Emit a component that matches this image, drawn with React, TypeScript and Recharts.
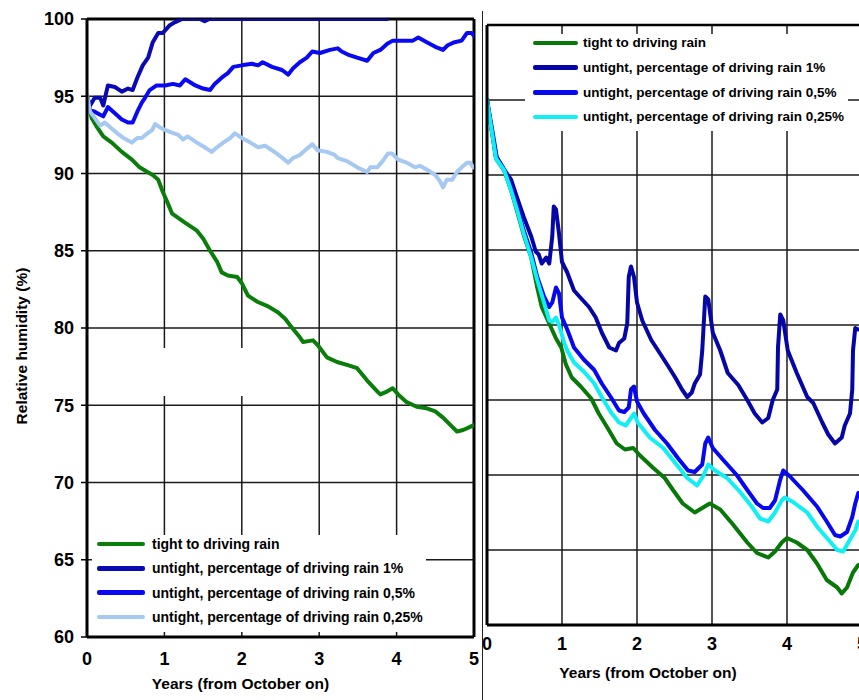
import React from 'react';
import { LineChart, Line, XAxis, YAxis, CartesianGrid, ReferenceLine, ReferenceArea, Legend } from 'recharts';

type Pt = [number, number];

const FONT = '"Liberation Sans", Arial, Helvetica, sans-serif';

const yearTicks = [0, 1, 2, 3, 4, 5];
const rhTicks = [60, 65, 70, 75, 80, 85, 90, 95, 100];
const gridRh = [65, 70, 75, 80, 85, 90, 95];
const gridYears = [1, 2, 3, 4];

const nameTight = 'tight to driving rain';
const nameRain1 = 'untight, percentage of driving rain 1%';
const nameRain05 = 'untight, percentage of driving rain 0,5%';
const nameRain025 = 'untight, percentage of driving rain 0,25%';
const legendOrder = [nameTight, nameRain1, nameRain05, nameRain025];

// ---- Left panel ----
const leftTight: Pt[] = [[0,94.8],[0.06,93.6],[0.13,93.0],[0.21,92.4],[0.32,92.0],[0.45,91.4],[0.58,90.9],[0.68,90.4],[0.78,90.1],[0.85,89.9],[0.92,89.6],[0.98,88.8],[1.05,88.0],[1.10,87.4],[1.27,86.8],[1.42,86.3],[1.50,85.8],[1.59,85.0],[1.68,84.3],[1.74,83.6],[1.82,83.4],[1.94,83.3],[2.00,82.9],[2.08,82.1],[2.20,81.7],[2.34,81.4],[2.47,81.0],[2.56,80.6],[2.62,80.2],[2.75,79.4],[2.79,79.1],[2.92,79.2],[2.98,78.9],[3.10,78.1],[3.23,77.8],[3.37,77.6],[3.49,77.4],[3.62,76.6],[3.75,75.9],[3.79,75.7],[3.88,75.9],[3.95,76.1],[4.02,75.7],[4.13,75.2],[4.26,74.9],[4.39,74.8],[4.50,74.6],[4.60,74.2],[4.72,73.6],[4.78,73.3],[4.86,73.4],[4.95,73.6],[4.99,73.7]];

const leftRain1: Pt[] = [[0,95],[0.04,94.4],[0.10,94.9],[0.17,94.9],[0.21,94.4],[0.27,95.7],[0.36,95.6],[0.45,95.3],[0.53,95.5],[0.59,95.4],[0.65,96.2],[0.72,97.0],[0.79,97.5],[0.85,98.5],[0.92,99.1],[0.98,99.1],[1.07,99.6],[1.14,99.8],[1.23,100],[1.46,100],[1.52,99.85],[1.58,100],[3.88,100]];

const leftRain05: Pt[] = [[0,95],[0.04,94.1],[0.10,94.0],[0.17,93.8],[0.21,93.7],[0.27,94.3],[0.36,93.9],[0.45,93.5],[0.53,93.3],[0.59,93.3],[0.65,94.0],[0.71,94.6],[0.75,94.9],[0.81,95.4],[0.90,95.7],[1.01,95.7],[1.11,95.8],[1.20,95.7],[1.27,96.1],[1.40,95.7],[1.50,95.5],[1.59,95.4],[1.65,95.8],[1.74,96.2],[1.82,96.5],[1.89,96.9],[2.00,97.0],[2.13,97.1],[2.21,97.0],[2.27,97.2],[2.39,96.9],[2.52,96.7],[2.60,96.4],[2.66,96.8],[2.75,97.2],[2.84,97.5],[2.91,97.9],[3.01,97.8],[3.14,98.0],[3.24,98.1],[3.29,97.9],[3.37,97.7],[3.49,97.5],[3.62,97.3],[3.70,97.8],[3.79,98.0],[3.88,98.4],[3.95,98.6],[4.08,98.6],[4.21,98.6],[4.28,98.8],[4.39,98.5],[4.50,98.2],[4.60,98.0],[4.66,98.3],[4.75,98.5],[4.84,98.6],[4.91,99.1],[4.97,99.1],[5.0,98.9]];

const leftRain025: Pt[] = [[0,95.1],[0.04,94.0],[0.10,93.6],[0.17,93.1],[0.23,93.3],[0.30,93.0],[0.39,92.6],[0.47,92.3],[0.58,92.0],[0.65,92.3],[0.71,92.3],[0.78,92.6],[0.84,92.8],[0.88,93.2],[0.97,92.9],[1.07,92.7],[1.18,92.5],[1.24,92.2],[1.30,92.4],[1.42,92.0],[1.52,91.7],[1.61,91.4],[1.68,91.7],[1.76,92.0],[1.85,92.3],[1.91,92.6],[2.00,92.3],[2.11,92.0],[2.21,91.7],[2.30,91.8],[2.36,91.6],[2.45,91.3],[2.60,90.7],[2.66,91.0],[2.75,91.2],[2.84,91.6],[2.91,91.9],[2.98,91.5],[3.10,91.4],[3.20,91.2],[3.24,91.0],[3.36,90.8],[3.49,90.4],[3.62,90.1],[3.66,90.4],[3.75,90.4],[3.82,90.8],[3.89,91.3],[3.94,91.3],[4.02,90.9],[4.13,90.7],[4.24,90.4],[4.30,90.5],[4.41,90.2],[4.50,89.9],[4.56,89.5],[4.60,89.1],[4.65,89.6],[4.72,89.6],[4.78,90.1],[4.84,90.4],[4.91,90.7],[4.95,90.7],[4.99,90.4]];

// ---- Right panel ----
const rightTight: Pt[] = [[0,95],[0.12,91.1],[0.23,90.3],[0.32,89.0],[0.40,87.6],[0.49,86.0],[0.59,84.5],[0.67,82.5],[0.73,81.2],[0.83,80.1],[0.92,79.1],[0.99,78.5],[1.05,77.4],[1.13,76.5],[1.25,75.9],[1.39,75.1],[1.49,74.1],[1.60,73.2],[1.73,72.1],[1.84,71.7],[1.95,71.8],[2.04,71.3],[2.21,70.5],[2.37,69.8],[2.48,69.0],[2.61,68.1],[2.77,67.5],[2.87,67.8],[2.97,68.1],[3.11,67.7],[3.28,66.7],[3.47,65.5],[3.60,64.8],[3.75,64.5],[3.84,64.9],[3.93,65.5],[4.00,65.8],[4.13,65.5],[4.27,65.0],[4.40,64.1],[4.53,63.0],[4.67,62.5],[4.73,62.1],[4.80,62.5],[4.88,63.5],[4.95,64.0]];

const rightRain1: Pt[] = [[0,95],[0.07,93.0],[0.13,91.2],[0.25,90.2],[0.32,89.7],[0.40,88.5],[0.49,87.2],[0.59,85.9],[0.65,84.9],[0.69,84.7],[0.73,84.1],[0.79,84.5],[0.83,84.1],[0.87,85.9],[0.89,87.9],[0.92,87.7],[0.96,86.1],[1.00,84.2],[1.07,83.5],[1.16,82.3],[1.25,81.8],[1.36,81.2],[1.45,80.5],[1.53,79.5],[1.63,78.5],[1.72,78.3],[1.76,78.8],[1.83,79.1],[1.87,80.1],[1.89,83.2],[1.92,83.9],[1.96,83.2],[2.00,81.5],[2.07,80.3],[2.19,79.0],[2.32,78.0],[2.41,77.3],[2.51,76.5],[2.60,75.7],[2.67,75.2],[2.73,75.5],[2.77,76.1],[2.84,76.7],[2.87,78.3],[2.91,81.9],[2.95,81.7],[3.01,79.5],[3.11,78.3],[3.21,76.8],[3.35,76.0],[3.47,75.0],[3.57,74.1],[3.67,73.5],[3.75,73.8],[3.81,75.0],[3.87,75.7],[3.88,78.5],[3.91,80.7],[3.95,80.3],[4.01,78.3],[4.13,76.8],[4.27,75.2],[4.35,74.8],[4.47,73.5],[4.55,72.7],[4.64,72.1],[4.73,72.5],[4.77,73.3],[4.84,74.1],[4.87,75.7],[4.88,78.3],[4.91,79.8],[4.95,79.7]];

const rightRain05: Pt[] = [[0,95],[0.12,91.2],[0.23,90.3],[0.32,89.2],[0.40,87.9],[0.49,86.3],[0.59,84.8],[0.67,83.2],[0.76,81.9],[0.83,81.2],[0.87,81.5],[0.92,82.5],[0.96,82.1],[1.00,80.5],[1.07,79.7],[1.16,78.5],[1.29,77.7],[1.43,77.0],[1.53,76.1],[1.65,75.2],[1.76,74.3],[1.83,74.2],[1.89,74.5],[1.92,75.7],[1.96,75.9],[2.00,74.9],[2.09,74.1],[2.24,73.0],[2.40,72.1],[2.55,71.1],[2.68,70.3],[2.77,70.2],[2.87,70.7],[2.91,72.1],[2.95,72.5],[3.01,71.8],[3.15,71.0],[3.33,70.0],[3.47,69.0],[3.60,68.1],[3.68,67.8],[3.77,67.8],[3.84,68.3],[3.91,69.7],[3.95,70.3],[4.04,69.9],[4.21,69.0],[4.40,67.9],[4.53,66.9],[4.64,66.0],[4.71,65.9],[4.80,66.2],[4.87,67.2],[4.91,68.1],[4.95,68.8]];

const rightRain025: Pt[] = [[0,95],[0.12,91.1],[0.23,90.3],[0.32,89.0],[0.40,87.7],[0.49,86.1],[0.59,84.5],[0.67,83.0],[0.76,81.5],[0.83,80.3],[0.87,80.2],[0.92,80.5],[0.96,80.0],[1.03,78.8],[1.07,78.3],[1.16,77.5],[1.29,76.9],[1.43,76.1],[1.53,75.2],[1.65,74.2],[1.76,73.5],[1.85,73.3],[1.92,73.8],[1.96,74.1],[2.01,73.5],[2.17,72.5],[2.35,71.8],[2.51,70.8],[2.67,69.8],[2.80,69.3],[2.88,69.9],[2.95,70.7],[3.04,70.3],[3.20,69.8],[3.37,68.9],[3.53,67.9],[3.64,67.1],[3.75,66.9],[3.84,67.5],[3.93,68.3],[3.97,68.5],[4.08,68.2],[4.27,67.5],[4.41,66.5],[4.55,65.7],[4.67,65.0],[4.75,64.9],[4.84,65.7],[4.91,66.3],[4.95,66.9]];

const toRows = (pts: Pt[]) => pts.map(([x, y]) => ({ x, y }));

const tickStyle = { fontSize: 18, fontWeight: 700, fill: '#000', fontFamily: FONT };

function EmptyTick() {
  return <g />;
}

function XTitle(props: any) {
  const vb = props.viewBox || { x: 0, y: 0, width: 0, height: 0 };
  return (
    <text
      x={vb.x + vb.width / 2 + props.dxOff}
      y={vb.y + props.yOff}
      textAnchor="middle"
      dominantBaseline="central"
      style={{ fontFamily: FONT, fontWeight: 700, fontSize: 15.5, fill: '#000' }}
    >
      Years (from October on)
    </text>
  );
}

function YTitle(props: any) {
  const vb = props.viewBox || { x: 0, y: 0, width: 0, height: 0 };
  const cx = vb.x + 21;
  const cy = vb.y + vb.height / 2 + 18;
  return (
    <text
      x={cx}
      y={cy}
      transform={`rotate(-90, ${cx}, ${cy})`}
      textAnchor="middle"
      dominantBaseline="central"
      style={{ fontFamily: FONT, fontWeight: 700, fontSize: 15.5, fill: '#000' }}
    >
      Relative humidity (%)
    </text>
  );
}

function makeLegend(cfg: { padLeft: number; swatch: number; gap: number; rowH: number; fontSize: number; shift: number }) {
  return (props: any) => {
    const payload = [...(props.payload || [])].sort(
      (a: any, b: any) => legendOrder.indexOf(a.value) - legendOrder.indexOf(b.value)
    );
    return (
      <div style={{ marginTop: cfg.shift }}>
        {payload.map((e: any) => (
          <div
            key={e.value}
            style={{ height: cfg.rowH, display: 'flex', alignItems: 'center', paddingLeft: cfg.padLeft }}
          >
            <span
              style={{
                display: 'inline-block',
                width: cfg.swatch,
                height: 4.5,
                background: e.color,
                borderRadius: 2,
                marginRight: cfg.gap,
                flex: 'none',
              }}
            />
            <span
              style={{
                fontFamily: FONT,
                fontWeight: 700,
                fontSize: cfg.fontSize,
                color: '#000',
                whiteSpace: 'nowrap',
                lineHeight: 1,
              }}
            >
              {e.value}
            </span>
          </div>
        ))}
      </div>
    );
  };
}

const leftLegend = makeLegend({ padLeft: 5, swatch: 48, gap: 7, rowH: 24.3, fontSize: 14, shift: -3 });
const rightLegend = makeLegend({ padLeft: 8, swatch: 45, gap: 5, rowH: 24.7, fontSize: 13.5, shift: -3.4 });

const lineProps = {
  dataKey: 'y',
  dot: false,
  activeDot: false,
  isAnimationActive: false,
  strokeWidth: 4,
  strokeLinejoin: 'round' as const,
  strokeLinecap: 'round' as const,
};

export default function App() {
  return (
    <div
      style={{
        position: 'absolute',
        left: 0,
        top: 0,
        width: 859,
        height: 700,
        overflow: 'hidden',
        background: '#fff',
      }}
    >
      <div style={{ position: 'absolute', left: 0, top: 0, width: 480, height: 700 }}>
        <LineChart width={480} height={700} margin={{ top: 19, right: 6, bottom: 0, left: 0 }}>
          <CartesianGrid stroke="#1a1a1a" strokeWidth={1.5} horizontalValues={gridRh} verticalValues={gridYears} />
          <ReferenceArea x1={0.8} x2={2.2} y1={75.6} y2={78.7} fill="#ffffff" fillOpacity={1} stroke="none" />
          <XAxis
            type="number"
            dataKey="x"
            domain={[0, 5]}
            ticks={yearTicks}
            interval={0}
            allowDataOverflow
            height={63}
            tickLine={false}
            tickSize={0}
            tickMargin={15}
            axisLine={{ stroke: '#000', strokeWidth: 3 }}
            tick={tickStyle}
            label={<XTitle dxOff={-40} yOff={46} />}
          />
          <YAxis
            type="number"
            domain={[60, 100]}
            ticks={rhTicks}
            interval={0}
            allowDataOverflow
            width={87}
            tickSize={6}
            tickMargin={7}
            tickLine={{ stroke: '#000', strokeWidth: 1.5 }}
            axisLine={{ stroke: '#000', strokeWidth: 3 }}
            tick={tickStyle}
            label={<YTitle />}
          />
          <ReferenceLine y={100} stroke="#000" strokeWidth={3} />
          <ReferenceLine x={5} stroke="#000" strokeWidth={3} />
          <Line {...lineProps} data={toRows(leftTight)} name={nameTight} stroke="#0b7d0b" />
          <Line {...lineProps} data={toRows(leftRain1)} name={nameRain1} stroke="#0a0ab4" />
          <Line {...lineProps} data={toRows(leftRain05)} name={nameRain05} stroke="#0a0af2" />
          <Line {...lineProps} data={toRows(leftRain025)} name={nameRain025} stroke="#a6c9f1" />
          <Legend
            layout="vertical"
            align="center"
            verticalAlign="middle"
            wrapperStyle={{ left: 92, top: 535, width: 334, height: 97, background: '#fff' }}
            content={leftLegend}
          />
        </LineChart>
      </div>

      <div style={{ position: 'absolute', left: 478, top: 0, width: 381, height: 700, overflow: 'hidden' }}>
        <LineChart width={395} height={700} margin={{ top: 25, right: 11, bottom: 0, left: 5 }}>
          <CartesianGrid stroke="#1a1a1a" strokeWidth={1.5} horizontalValues={gridRh} verticalValues={gridYears} />
          <XAxis
            type="number"
            dataKey="x"
            domain={[0, 5]}
            ticks={yearTicks}
            interval={0}
            allowDataOverflow
            height={75}
            tickLine={false}
            tickSize={0}
            tickMargin={12}
            axisLine={{ stroke: '#000', strokeWidth: 3 }}
            tick={tickStyle}
            label={<XTitle dxOff={-26.5} yOff={47} />}
          />
          <YAxis
            type="number"
            domain={[60, 100]}
            ticks={rhTicks}
            interval={0}
            allowDataOverflow
            width={4}
            tickSize={0}
            tick={<EmptyTick />}
            tickLine={false}
            axisLine={{ stroke: '#000', strokeWidth: 3 }}
          />
          <ReferenceLine y={100} stroke="#000" strokeWidth={2.5} />
          <Line {...lineProps} data={toRows(rightTight)} name={nameTight} stroke="#087808" />
          <Line {...lineProps} data={toRows(rightRain1)} name={nameRain1} stroke="#0606a6" />
          <Line {...lineProps} data={toRows(rightRain05)} name={nameRain05} stroke="#0808ee" />
          <Line {...lineProps} data={toRows(rightRain025)} name={nameRain025} stroke="#10f0f4" />
          <Legend
            layout="vertical"
            align="center"
            verticalAlign="middle"
            wrapperStyle={{ left: 47, top: 34, width: 323, height: 97, background: '#fff' }}
            content={rightLegend}
          />
        </LineChart>
      </div>

      <div style={{ position: 'absolute', left: 482, top: 11, width: 1.3, height: 689, background: '#222' }} />
    </div>
  );
}
